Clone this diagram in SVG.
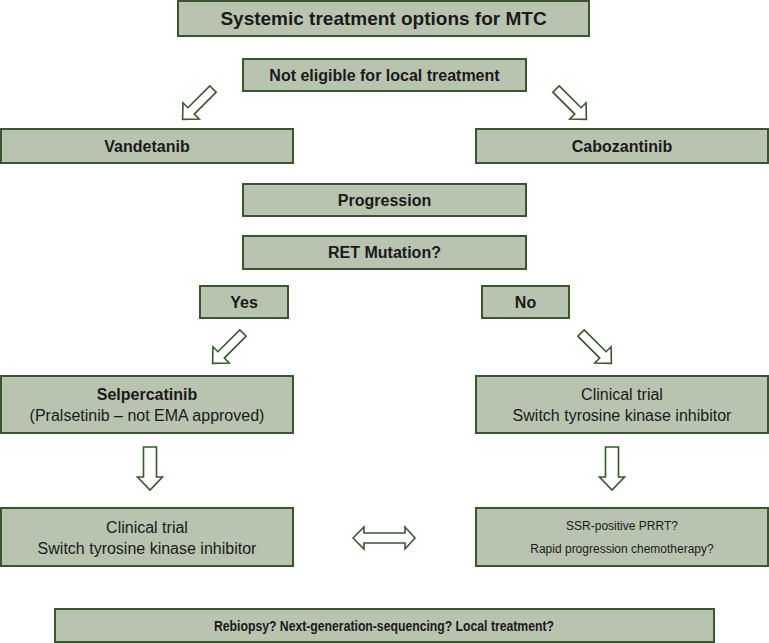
<svg xmlns="http://www.w3.org/2000/svg" width="769" height="643" viewBox="0 0 769 643">
<style>
.box{fill:#b8c4b0;stroke:#3a5530;stroke-width:2}
.arr{fill:#ffffff;stroke:#3a5530;stroke-width:1.6;stroke-linejoin:miter}
text{font-family:"Liberation Sans",Arial,sans-serif;fill:#1a1a1a;text-anchor:middle}
.b{font-weight:bold;font-size:16px}
.r{font-size:16px}
.s{font-size:12px}
</style>
<defs>
<path id="diag" d="M0,-4.5 L31,-4.5 L31,-11.5 L43,0 L31,11.5 L31,4.5 L0,4.5 Z"/>
<path id="down" d="M-6.5,0 L6.5,0 L6.5,30 L12.5,30 L0,43 L-12.5,30 L-6.5,30 Z"/>
</defs>
<rect width="769" height="643" fill="#ffffff"/>
<g id="title"><rect class="box" x="178" y="1" width="411" height="35"/><text class="b" x="383.5" y="25" style="font-size:19px">Systemic treatment options for MTC</text></g>
<g id="noteligible"><rect class="box" x="243" y="59" width="283" height="32"/><text class="b" x="384.5" y="81">Not eligible for local treatment</text></g>
<g id="vandetanib"><rect class="box" x="1" y="129" width="292" height="34"/><text class="b" x="147" y="152">Vandetanib</text></g>
<g id="cabozantinib"><rect class="box" x="476" y="129" width="292" height="34"/><text class="b" x="622" y="152">Cabozantinib</text></g>
<g id="progression"><rect class="box" x="243" y="184" width="283" height="32"/><text class="b" x="384.5" y="206">Progression</text></g>
<g id="ret"><rect class="box" x="243" y="236" width="283" height="33"/><text class="b" x="384.5" y="258">RET Mutation?</text></g>
<g id="yes"><rect class="box" x="200" y="286" width="88" height="32"/><text class="b" x="244" y="308">Yes</text></g>
<g id="no"><rect class="box" x="482" y="286" width="87" height="32"/><text class="b" x="525.5" y="308">No</text></g>
<g id="selpercatinib"><rect class="box" x="1" y="376" width="292" height="57"/><text class="b" x="147" y="400">Selpercatinib</text><text class="r" x="147" y="421">(Pralsetinib – not EMA approved)</text></g>
<g id="trial-right"><rect class="box" x="476" y="376" width="292" height="57"/><text class="r" x="622" y="400">Clinical trial</text><text class="r" x="622" y="421">Switch tyrosine kinase inhibitor</text></g>
<g id="trial-left"><rect class="box" x="1" y="508" width="292" height="58"/><text class="r" x="147" y="533">Clinical trial</text><text class="r" x="147" y="554">Switch tyrosine kinase inhibitor</text></g>
<g id="ssr"><rect class="box" x="476" y="508" width="292" height="58"/><text class="s" x="622" y="530">SSR-positive PRRT?</text><text class="s" x="622" y="553">Rapid progression chemotherapy?</text></g>
<g id="rebiopsy"><rect class="box" x="55" y="609" width="659" height="33"/><text class="b" x="384" y="631" style="font-size:15px" textLength="340" lengthAdjust="spacingAndGlyphs">Rebiopsy? Next-generation-sequencing? Local treatment?</text></g>
<g id="connectors">
<use href="#diag" class="arr" transform="translate(213,89) rotate(135)"/>
<use href="#diag" class="arr" transform="translate(556,89) rotate(45)"/>
<use href="#diag" class="arr" transform="translate(243,333) rotate(135)"/>
<use href="#diag" class="arr" transform="translate(581,333) rotate(45)"/>
<use href="#down" class="arr" transform="translate(150,447)"/>
<use href="#down" class="arr" transform="translate(612,447)"/>
<path class="arr" d="M353,538 L364,527 L364,533 L405,533 L405,527 L415,538 L405,549 L405,543 L364,543 L364,549 Z"/>
</g>
</svg>
